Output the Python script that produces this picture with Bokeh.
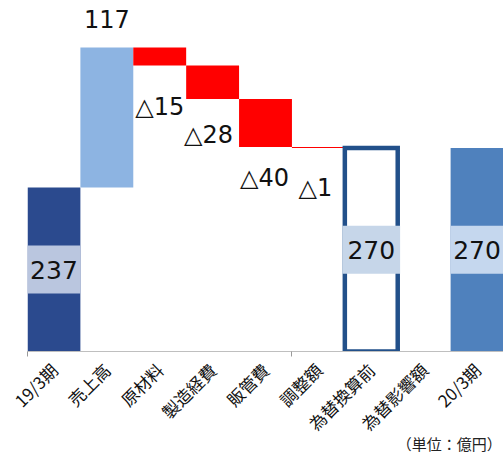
from bokeh.plotting import figure
from bokeh.models import Range1d, FixedTicker
from bokeh.core.properties import value
from bokeh.embed import file_html
from bokeh.resources import INLINE
import math

# Operating profit bridge, 19/3期 -> 20/3期 (億円)
categories = ["19/3期", "売上高", "原材料", "製造経費", "販管費", "調整額",
              "為替換算前", "為替影響額", "20/3期"]
start_value = 237
change_names = ["売上高", "原材料", "製造経費", "販管費", "調整額"]
change_values = [117, -15, -28, -40, -1]
before_fx_value = 270
fx_effect = 0
end_value = 270
unit_note = "（単位：億円）"

Y_MIN = 100
PX_PER_UNIT = 1.2
FRAME_H = 352
Y_MAX = Y_MIN + FRAME_H / PX_PER_UNIT

NUM_FONT = value("DejaVu Sans")
JP_FONT = "Noto Sans CJK JP"

p = figure(width=503, height=457, output_backend="svg", toolbar_location=None,
           x_range=Range1d(0.5, 9.5), y_range=Range1d(Y_MIN, Y_MAX),
           min_border_left=27, min_border_right=0, min_border_top=0,
           min_border_bottom=0)
p.outline_line_color = None
p.grid.visible = False
p.yaxis.visible = False
p.background_fill_color = "white"
p.border_fill_color = "white"

xpos = list(range(1, len(categories) + 1))
xi = {c: x for c, x in zip(categories, xpos)}

# opening total
p.quad(left=[xi["19/3期"] - 0.5], right=[xi["19/3期"] + 0.5], bottom=[0], top=[start_value],
       fill_color="#2B4A8E", line_color=None)

# step bars
running = start_value
step_l, step_r, step_b, step_t, step_c = [], [], [], [], []
for name, v in zip(change_names, change_values):
    lo, hi = (running, running + v) if v >= 0 else (running + v, running)
    step_l.append(xi[name] - 0.5)
    step_r.append(xi[name] + 0.5)
    step_b.append(lo)
    step_t.append(hi)
    step_c.append("#8DB4E2" if v >= 0 else "#FF0000")
    running += v
p.quad(left=step_l, right=step_r, bottom=step_b, top=step_t, fill_color=step_c, line_color=None)

# subtotal before FX (outlined)
p.quad(left=[xi["為替換算前"] - 0.5], right=[xi["為替換算前"] + 0.5], bottom=[Y_MIN],
       top=[before_fx_value], fill_color=None, line_color="#22508A", line_width=4.5,
       line_join="miter")

# closing total
p.quad(left=[xi["20/3期"] - 0.5], right=[xi["20/3期"] + 0.5], bottom=[0], top=[end_value],
       fill_color="#4F81BD", line_color=None)

# total labels on light bands
tot_x = [xi["19/3期"], xi["為替換算前"], xi["20/3期"]]
tot_v = [start_value, before_fx_value, end_value]
tot_mid = [(Y_MIN + v) / 2 for v in tot_v]
p.rect(x=tot_x, y=tot_mid, width=[1.0, 1.09, 1.0], height=48, height_units="screen",
       fill_color=["#BAC6DF", "#C6D6E9", "#C5D7EE"], line_color=None)
p.text(x=tot_x, y=tot_mid, text=[str(v) for v in tot_v], text_font=NUM_FONT,
       text_font_size="25px", text_align="center", text_baseline="middle", text_color="#111111")

# change labels
def fmt(v):
    return str(v) if v >= 0 else "△" + str(-v)

lab_x, lab_y, lab_t = [], [], []
for name, b, t, v in zip(change_names, step_b, step_t, change_values):
    lab_x.append(xi[name])
    lab_y.append(t if v >= 0 else b)
    lab_t.append(fmt(v))
label_dy = [-29, 41, 36, 31, 40]
label_dx = [0, 0, -4, -1, -3]
p.text(x=lab_x, y=lab_y, text=lab_t, x_offset=label_dx, y_offset=label_dy,
       text_font=NUM_FONT, text_font_size="24px", text_align="center",
       text_baseline="middle", text_color="#111111")

# category axis; the unit note sits in the axis label, pushed to the right
# with ideographic spaces
ax = p.xaxis[0]
ax.ticker = FixedTicker(ticks=xpos, minor_ticks=[0.5, 5.5])
ax.major_label_overrides = {x: c for x, c in zip(xpos, categories)}
ax.major_label_orientation = math.pi / 4
ax.major_label_text_font = JP_FONT
ax.major_label_text_font_size = "17px"
ax.major_label_text_color = "#111111"
ax.major_label_standoff = 9
ax.major_tick_line_color = None
ax.minor_tick_in = 0
ax.minor_tick_out = 5
ax.minor_tick_line_color = "#9A9A9A"
ax.axis_line_color = "#BFBFBF"
ax.axis_line_width = 1.2
ax.axis_label = "\u3000" * 25 + unit_note
ax.axis_label_text_font = JP_FONT
ax.axis_label_text_font_size = "15px"
ax.axis_label_text_font_style = "normal"
ax.axis_label_text_color = "#222222"
ax.axis_label_standoff = -14
ax.axis_label_align = "center"

open("out.html", "w").write(file_html(p, INLINE))
